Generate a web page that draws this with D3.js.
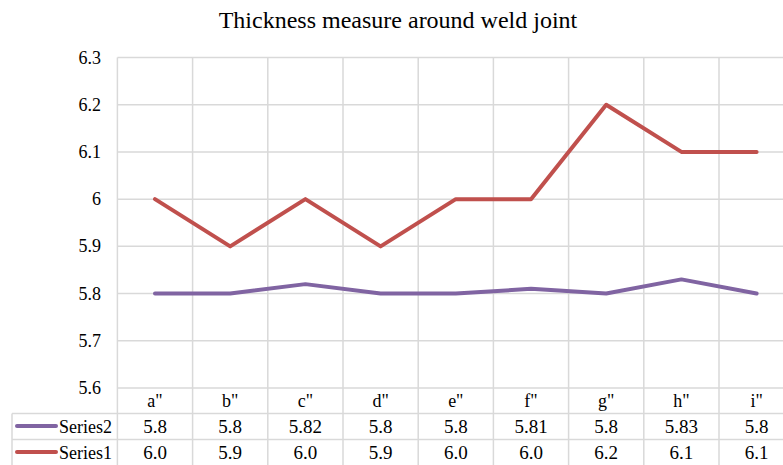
<!DOCTYPE html>
<html>
<head>
<meta charset="utf-8">
<script src="https://cdn.jsdelivr.net/npm/d3@7"></script>
<style>
  body { margin: 0; background: #fff; }
  svg text { font-family: "Liberation Serif", "Times New Roman", serif; fill: #000; }
</style>
</head>
<body>
<div id="chart"></div>
<script>
const categories = ['a"', 'b"', 'c"', 'd"', 'e"', 'f"', 'g"', 'h"', 'i"'];
const series1 = [6.0, 5.9, 6.0, 5.9, 6.0, 6.0, 6.2, 6.1, 6.1];
const series2 = [5.8, 5.8, 5.82, 5.8, 5.8, 5.81, 5.8, 5.83, 5.8];
const series1Labels = ["6.0", "5.9", "6.0", "5.9", "6.0", "6.0", "6.2", "6.1", "6.1"];
const series2Labels = ["5.8", "5.8", "5.82", "5.8", "5.8", "5.81", "5.8", "5.83", "5.8"];
const yTicks = [5.6, 5.7, 5.8, 5.9, 6, 6.1, 6.2, 6.3];

const
  width = 783,
  height = 465;

const svg = d3.select("#chart")
  .append("svg")
  .attr("width", width)
  .attr("height", height);

const plotLeft = 117.4, plotTop = 57.5, plotBottom = 388;
const colW = 75.2;

// x scale: one band per category
const x = d3.scaleBand()
  .domain(categories)
  .range([plotLeft, plotLeft + colW * categories.length]);

const y = d3.scaleLinear()
  .domain([5.6, 6.3])
  .range([plotBottom, plotTop]);

const gridColor = "#d9d9d9";

// title
svg.append("text")
  .attr("x", 398)
  .attr("y", 28)
  .attr("text-anchor", "middle")
  .style("font-size", "24px")
  .text("Thickness measure around weld joint");

// horizontal gridlines
svg.append("g")
  .selectAll("line")
  .data(yTicks)
  .enter().append("line")
  .attr("x1", plotLeft).attr("x2", width)
  .attr("y1", d => y(d)).attr("y2", d => y(d))
  .attr("stroke", gridColor).attr("stroke-width", 1.5);

// y tick labels
svg.append("g")
  .selectAll("text")
  .data(yTicks)
  .enter().append("text")
  .attr("x", 101)
  .attr("y", d => y(d) + 6)
  .attr("text-anchor", "end")
  .style("font-size", "18px")
  .text(d => d);

// vertical gridlines (through plot and table)
const tableRow1 = 413.5, tableRow2 = 439.5;
const vx = categories.map(c => x(c)).concat([x(categories[categories.length - 1]) + colW]);
svg.append("g")
  .selectAll("line")
  .data(vx)
  .enter().append("line")
  .attr("x1", d => d).attr("x2", d => d)
  .attr("y1", plotTop).attr("y2", height)
  .attr("stroke", gridColor).attr("stroke-width", 1.5);

// table horizontal lines
svg.append("g")
  .selectAll("line")
  .data([tableRow1, tableRow2])
  .enter().append("line")
  .attr("x1", 12).attr("x2", width)
  .attr("y1", d => d).attr("y2", d => d)
  .attr("stroke", gridColor).attr("stroke-width", 1.5);
svg.append("line")
  .attr("x1", 12).attr("x2", 12)
  .attr("y1", tableRow1).attr("y2", height)
  .attr("stroke", gridColor).attr("stroke-width", 1.5);

// category labels
svg.append("g")
  .selectAll("text")
  .data(categories)
  .enter().append("text")
  .attr("x", d => x(d) + x.bandwidth() / 2)
  .attr("y", 407)
  .attr("text-anchor", "middle")
  .style("font-size", "18px")
  .text(d => d);

const rows = [
  { name: "Series2", color: "#8064A2", values: series2, labels: series2Labels, y: tableRow1 },
  { name: "Series1", color: "#C0504D", values: series1, labels: series1Labels, y: tableRow2 }
];

const line = d3.line()
  .x((d, i) => x(categories[i]) + x.bandwidth() / 2)
  .y(d => y(d));

// series lines (Series1 drawn on top)
rows.forEach(r => {
  svg.append("path")
    .datum(r.values)
    .attr("d", line)
    .attr("fill", "none")
    .attr("stroke", r.color)
    .attr("stroke-width", 4)
    .attr("stroke-linejoin", "round")
    .attr("stroke-linecap", "round");
});

// table rows: legend key, name, values
rows.forEach(r => {
  const g = svg.append("g");
  g.append("line")
    .attr("x1", 17).attr("x2", 56)
    .attr("y1", r.y + 12.5).attr("y2", r.y + 12.5)
    .attr("stroke", r.color).attr("stroke-width", 4)
    .attr("stroke-linecap", "round");
  g.append("text")
    .attr("x", 59)
    .attr("y", r.y + 19)
    .style("font-size", "18px")
    .text(r.name);
  g.selectAll("text.v")
    .data(r.labels)
    .enter().append("text")
    .attr("class", "v")
    .attr("x", (d, i) => x(categories[i]) + x.bandwidth() / 2)
    .attr("y", r.y + 19)
    .attr("text-anchor", "middle")
    .style("font-size", "19px")
    .text(d => d);
});
</script>
</body>
</html>
